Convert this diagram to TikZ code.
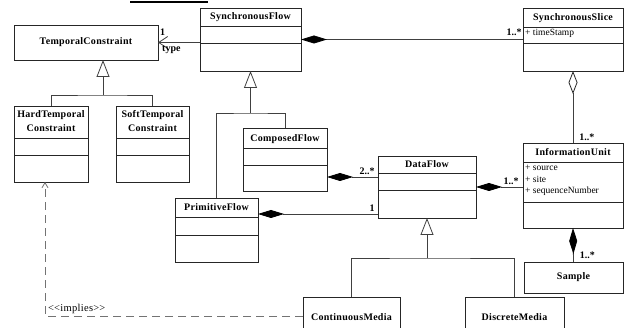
\documentclass[tikz,border=0pt]{standalone}
\usepackage{fontspec}
\setmainfont{Liberation Serif}
\newfontfamily\umlfont[LetterSpace=3]{Liberation Serif}
\usetikzlibrary{arrows.meta,positioning,calc}

\begin{document}
\begin{tikzpicture}[
    x=1pt, y=-1pt,
    cls/.style={rectangle, draw=black!85, line width=0.8pt, anchor=north west,
                inner sep=0pt, outer sep=0pt, align=center,
                font=\umlfont\fontsize{10}{11}\selectfont\bfseries},
    clsname/.style={inner sep=0pt, align=center,
                    font=\umlfont\fontsize{10}{14}\selectfont\bfseries},
    attr/.style={inner sep=0pt, align=left, font=\fontsize{9.5}{11.5}\selectfont},
    mult/.style={inner sep=0pt, font=\fontsize{10}{11}\selectfont\bfseries},
    conn/.style={draw=black!75, line width=0.8pt},
    comp/.style={conn, {Diamond[length=26pt,width=8pt,black]}-},
    aggr/.style={conn, {Diamond[open,length=23pt,width=9pt,black!85]}-},
    gen/.style={conn, -{Triangle[open,length=17pt,width=13pt]}},
    nav/.style={conn, -{Straight Barb[length=9pt,width=12pt]}},
    dep/.style={draw=black!55, line width=0.8pt, dash pattern=on 8pt off 5pt,
                -{Straight Barb[length=5pt,width=6pt]}}
]
\useasboundingbox (0,0) rectangle (627,328);
\clip (0,0) rectangle (627,328);

% cut-off title
\draw[line width=1.5pt] (130,2) -- (208,2);

% Classes
\node[cls, minimum width=144pt, minimum height=35pt] (tc) at (14,25) {TemporalConstraint};
\node[cls, minimum width=101pt, minimum height=63pt] (sflow) at (200,8) {};
\node[cls, minimum width=100pt, minimum height=63pt] (sslice) at (523,8) {};
\node[cls, minimum width=74pt, minimum height=76pt] (hard) at (14,106) {};
\node[cls, minimum width=73pt, minimum height=76pt] (soft) at (116,106) {};
\node[cls, minimum width=84pt, minimum height=63pt] (cflow) at (243,128) {};
\node[cls, minimum width=83pt, minimum height=64pt] (pflow) at (175,198) {};
\node[cls, minimum width=98pt, minimum height=62pt] (dflow) at (378,156) {};
\node[cls, minimum width=100pt, minimum height=85pt] (iunit) at (523,143) {};
\node[cls, minimum width=99pt, minimum height=31pt] (sample) at (524,262) {Sample};
\node[cls, minimum width=97pt, minimum height=40pt] (cmedia) at (303,297) {ContinuousMedia};
\node[cls, minimum width=99pt, minimum height=40pt] (dmedia) at (465,297) {DiscreteMedia};

% Class names
\node[clsname, below=4pt of sflow.north] (sflowname) {SynchronousFlow};
\node[clsname, below=5pt of sslice.north] (sslicename) {SynchronousSlice};
\node[clsname, below=4pt of hard.north] (hardname) {HardTemporal\\Constraint};
\node[clsname, below=4pt of soft.north] (softname) {SoftTemporal\\Constraint};
\node[clsname, below=6pt of cflow.north] (cflowname) {ComposedFlow};
\node[clsname, below=5pt of pflow.north] (pflowname) {PrimitiveFlow};
\node[clsname, below=4pt of dflow.north] (dflowname) {DataFlow};
\node[clsname, below=5pt of iunit.north] (iunitname) {InformationUnit};

% Compartments
\foreach \n/\a/\b in {sflow/26/43, sslice/27/43, hard/138/155, soft/138/155,
                      cflow/148/165, pflow/217/235, dflow/173/190, iunit/162/202} {
  \draw[draw=black!85, line width=0.8pt] (\n.west |- 0,\a) -- (\n.east |- 0,\a);
  \draw[draw=black!85, line width=0.8pt] (\n.west |- 0,\b) -- (\n.east |- 0,\b);
}

% Attributes
\node[attr, below right=21pt and 2pt of sslice.north west] (ssliceattr) {+ timeStamp};
\node[attr, below right=22pt and 2pt of iunit.north west] (iunitattr)
     {+ source\\+ site\\+ sequenceNumber};

% Associations
\draw[nav] (sflow.west |- tc.east) -- (tc.east);
\node[mult, above right=7pt and 2pt of tc.east] (tcmult) {1};
\node[mult, below right=3pt and 4pt of tc.east] (tcrole) {type};
\draw[comp] (sflow.east) -- (sflow.east -| sslice.west)
      node[mult, above left=3pt and 1pt] (m1) {1..*};
\draw[aggr] (sslice.south) -- (iunit.north)
      node[mult, above right=2pt and 6pt] (m2) {1..*};
\coordinate (cdf) at ($(cflow.south east)+(0,-14)$);
\draw[comp] (cdf) -- (cdf -| dflow.west)
      node[mult, above left=2pt and 3pt] (m3) {2..*};
\coordinate (pdf) at ($(pflow.north east)+(0,16)$);
\draw[comp] (pdf) -- (pdf -| dflow.west)
      node[mult, above left=2pt and 3pt] (m4) {1};
\draw[comp] (dflow.east) -- (dflow.east -| iunit.west)
      node[mult, above left=2pt and 4pt] (m5) {1..*};
\draw[comp] (iunit.south) -- (sample.north)
      node[mult, above right=3pt and 6pt] (m6) {1..*};

% Generalizations
\coordinate (tcj) at (103,95);
\draw[gen] (tcj) -- (tcj |- tc.south);
\draw[conn] (hard.north) |- (tcj) -| (soft.north);
\coordinate (sfj) at ($(sflow.south)+(0,42)$);
\draw[gen] (sfj) -- (sflow.south);
\draw[conn] (pflow.north) |- (sfj) -| (cflow.north);
\coordinate (dfj) at ($(dflow.south)+(0,40)$);
\draw[gen] (dfj) -- (dflow.south);
\draw[conn] (cmedia.north) |- (dfj) -| (dmedia.north);

% Dependency
\coordinate (impl) at (45,316);
\draw[dep] (cmedia.west |- impl) -- (impl) -- (impl |- hard.south);
\node[above right=2pt and 3pt of impl, inner sep=0pt, font=\umlfont\fontsize{10.5}{11}\selectfont]
     (impllabel) {<\kern0pt<implies>\kern0pt>};
\end{tikzpicture}
\end{document}
